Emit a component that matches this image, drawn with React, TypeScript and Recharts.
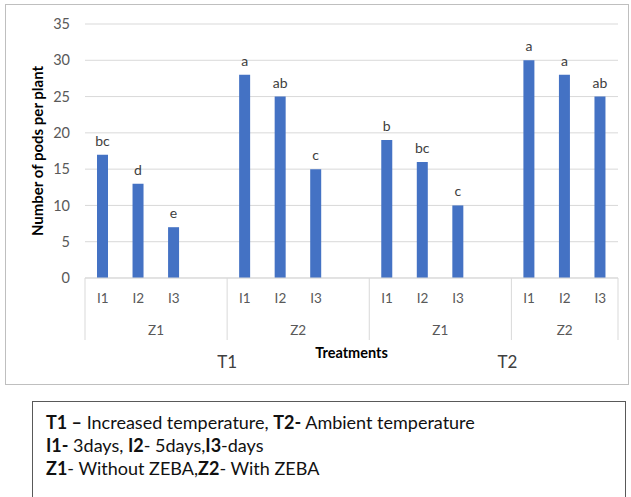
import { BarChart, Bar, XAxis, YAxis, CartesianGrid, LabelList } from "recharts"

const slots = ["I1", "I2", "I3", "", "I1", "I2", "I3", "", "I1", "I2", "I3", "", "I1", "I2", "I3"]
const pods = [17, 13, 7, null, 28, 25, 15, null, 19, 16, 10, null, 30, 28, 25]
const letters = ["bc", "d", "e", "", "a", "ab", "c", "", "b", "bc", "c", "", "a", "a", "ab"]
const zones = ["Z1", "Z2", "Z1", "Z2"]
const temps = ["T1", "T2"]
const yTicks = [0, 5, 10, 15, 20, 25, 30, 35]

const data = slots.map((s, i) => ({ id: i, slot: s, pods: pods[i], sig: letters[i] }))

const FONT = "Lato, 'Open Sans', sans-serif"
const W = 631
const H = 390
const M = { top: 24, right: 13, left: 33, bottom: 42 }
const Y_W = 52
const BAND = (W - M.left - Y_W - M.right) / slots.length

function GroupTick(props: any) {
  const { x, y, payload } = props
  const i = payload.index
  const out: any[] = []
  out.push(
    <text key="s" x={x} y={y + 25} textAnchor="middle" fontSize={13.5} fill="#595959" fontFamily={FONT}>
      {slots[i]}
    </text>
  )
  // zone groups start every 4 slots
  if (i % 4 === 0) {
    const g = i / 4
    out.push(<line key="l" x1={x - BAND / 2} x2={x - BAND / 2} y1={y} y2={y + 62} stroke="#d9d9d9" />)
    const span = g === zones.length - 1 ? slots.length - i : 4
    out.push(
      <text key="z" x={x - BAND / 2 + (span * BAND) / 2} y={y + 57} textAnchor="middle" fontSize={13.5} fill="#595959" fontFamily={FONT}>
        {zones[g]}
      </text>
    )
  }
  if (i === slots.length - 1) {
    out.push(<line key="r" x1={x + BAND / 2} x2={x + BAND / 2} y1={y} y2={y + 62} stroke="#d9d9d9" />)
  }
  if (i === 4 || i === 12) {
    out.push(
      <text key="t" x={x - BAND / 2 - (i === 12 ? 4 : 0)} y={y + 90} textAnchor="middle" fontSize={17} fill="#404040" fontFamily={FONT}>
        {temps[i === 4 ? 0 : 1]}
      </text>
    )
  }
  return <g>{out}</g>
}

export default function App() {
  return (
    <div style={{ position: "absolute", left: 0, top: 0, width: W, height: 497, background: "#fff", overflow: "hidden" }}>
      <div style={{ position: "absolute", left: 5, top: 4, width: 624, height: 381, border: "1.5px solid #bfbfbf", boxSizing: "border-box" }} />
      <div style={{ position: "absolute", left: 0, top: 0 }}>
        <BarChart width={W} height={H} data={data} margin={M} barSize={11}>
          <CartesianGrid vertical={false} stroke="#d9d9d9" />
          <XAxis
            dataKey="id"
            interval={0}
            height={70}
            tickLine={false}
            tickSize={0}
            tickMargin={0}
            axisLine={{ stroke: "#d9d9d9" }}
            tick={<GroupTick />}
            label={{ value: "Treatments", position: "bottom", offset: 0, fontSize: 14.5, fontWeight: "bold", fill: "#000", fontFamily: FONT }}
          />
          <YAxis
            width={Y_W}
            domain={[0, 35]}
            ticks={yTicks}
            axisLine={false}
            tickLine={false}
            tickSize={0}
            tickMargin={15}
            tick={{ fontSize: 14.5, fill: "#595959", fontFamily: FONT }}
            label={{
              value: "Number of pods per plant",
              angle: -90,
              position: "insideLeft",
              offset: 5,
              style: { textAnchor: "middle" },
              fontSize: 15,
              fontWeight: "bold",
              fill: "#000",
              fontFamily: FONT,
            }}
          />
          <Bar dataKey="pods" fill="#4472c4" isAnimationActive={false}>
            <LabelList dataKey="sig" position="top" offset={9} fontSize={14} fill="#404040" fontFamily={FONT} />
          </Bar>
        </BarChart>
      </div>
      <div
        style={{
          position: "absolute",
          left: 32,
          top: 401,
          width: 594,
          height: 110,
          border: "1px solid #595959",
          boxSizing: "border-box",
          padding: "9px 0 0 13px",
          fontFamily: FONT,
          fontSize: 18,
          lineHeight: "23px",
          color: "#111",
        }}
      >
        <div>
          <b>T1 –</b> Increased temperature, <b>T2-</b> Ambient temperature
        </div>
        <div>
          <b>I1-</b> 3days, <b>I2</b>- 5days,<b>I3</b>-days
        </div>
        <div>
          <b>Z1</b>- Without ZEBA,<b>Z2</b>- With ZEBA
        </div>
      </div>
    </div>
  )
}
